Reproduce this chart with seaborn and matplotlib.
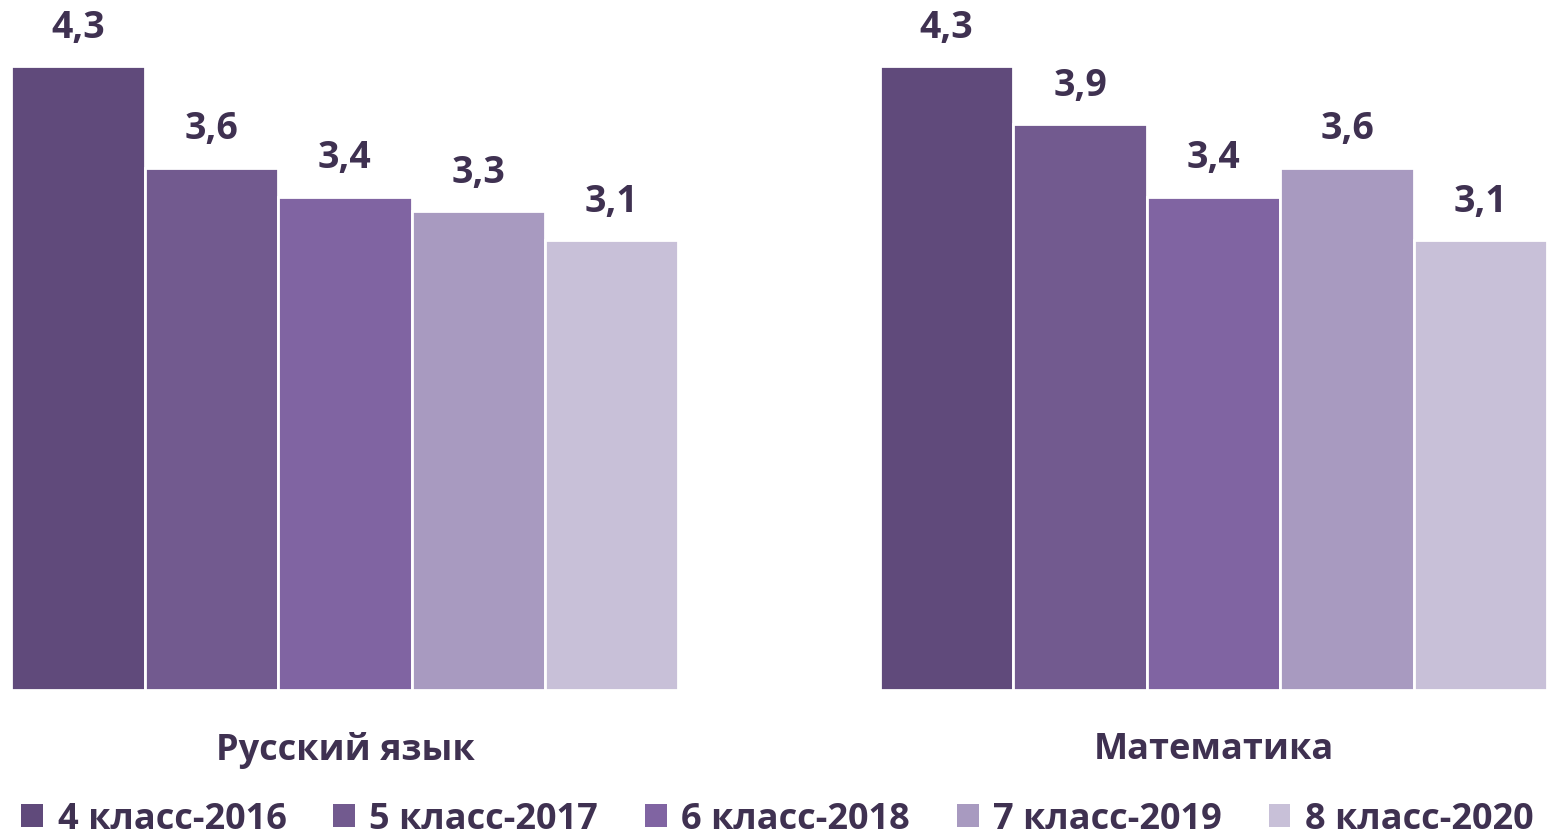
import pandas as pd
import matplotlib.pyplot as plt
import seaborn as sns
from matplotlib.patches import Patch

# Data
subjects = ["Русский язык", "Математика"]
series = ["4 класс-2016", "5 класс-2017", "6 класс-2018", "7 класс-2019", "8 класс-2020"]
russian = [4.3, 3.6, 3.4, 3.3, 3.1]
math = [4.3, 3.9, 3.4, 3.6, 3.1]
colors = ["#604a7b", "#725a8f", "#8064a2", "#a89ac0", "#c8c0d8"]
text_color = "#3f3151"

rows = []
for s, r, m in zip(series, russian, math):
    rows.append({"subject": subjects[0], "series": s, "value": r})
    rows.append({"subject": subjects[1], "series": s, "value": m})
df = pd.DataFrame(rows)

sns.set_theme(style="white")
plt.rcParams["font.family"] = ["Open Sans", "DejaVu Sans"]
plt.rcParams["font.weight"] = "bold"

fig = plt.figure(figsize=(15.55, 8.38), dpi=100)
ax = fig.add_axes([0, 0.1766, 1, 0.8234])

sns.barplot(
    data=df, x="subject", y="value", hue="series",
    order=subjects, hue_order=series, palette=colors, saturation=1,
    width=0.768, edgecolor="white", linewidth=2,
    legend=False, ax=ax
)

for cont in ax.containers:
    ax.bar_label(
        cont,
        labels=[f"{v:.1f}".replace(".", ",") for v in cont.datavalues],
        padding=14, fontsize=27, fontweight="bold", color=text_color
    )

ax.set_xlim(-0.397, 1.393)
ax.set_ylim(0, 4.755)
ax.set_xlabel("")
ax.set_ylabel("")
ax.set_yticks([])
ax.tick_params(axis="x", length=0, pad=30, labelsize=26, labelcolor=text_color)
for lbl in ax.get_xticklabels():
    lbl.set_fontweight("bold")
sns.despine(ax=ax, left=True, top=True, right=True, bottom=True)

handles = [Patch(facecolor=c, edgecolor="none") for c in colors]
fig.legend(
    handles, series, loc="center", bbox_to_anchor=(0.5, 0.022), ncol=5,
    frameon=False, fontsize=26, labelcolor=text_color,
    handlelength=0.6, handleheight=0.6, handletextpad=0.4,
    columnspacing=1.3, borderaxespad=0, borderpad=0
)

fig.savefig("out.png", dpi=100)
